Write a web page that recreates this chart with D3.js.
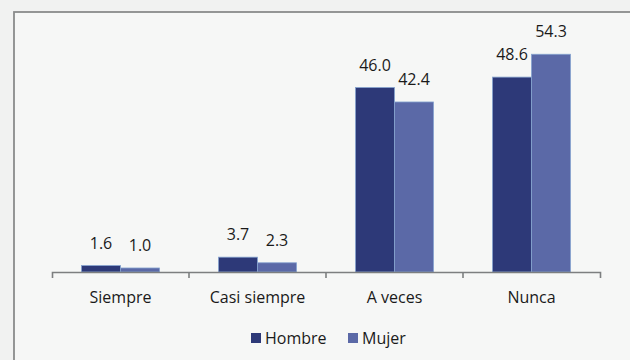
<!DOCTYPE html>
<html>
<head>
<meta charset="utf-8">
<script src="https://cdn.jsdelivr.net/npm/d3@7"></script>
<style>
  html, body { margin: 0; padding: 0; background: #f1f2f1; }
  svg { display: block; }
  text { font-family: "Open Sans", Lato, sans-serif; fill: #1a1a1a; }
</style>
</head>
<body>
<svg id="chart" width="630" height="360"></svg>
<script>
// Frecuencia por sexo (%)
const categories = ["Siempre", "Casi siempre", "A veces", "Nunca"];
const series = ["Hombre", "Mujer"];
const hombre = [1.6, 3.7, 46.0, 48.6];
const mujer = [1.0, 2.3, 42.4, 54.3];
const colors = ["#2d3978", "#5b69a7"];

const values = [hombre, mujer];
const svg = d3.select("#chart");
const font = "'Open Sans', Lato, sans-serif";

// frame
svg.append("rect")
  .attr("x", 14).attr("y", 12)
  .attr("width", 700).attr("height", 400)
  .attr("fill", "#f6f7f6")
  .attr("stroke", "#8a8c8c")
  .attr("stroke-width", 1.8);

const baseY = 272;
const x = d3.scaleBand().domain(categories).range([52, 600]).padding(0);
const x1 = d3.scaleBand().domain(series).range([0, x.bandwidth()])
  .paddingInner(0).paddingOuter(0.756);
const y = d3.scaleLinear().domain([0, 60]).range([baseY, baseY - 4.01 * 60]);

// bars
const groups = svg.append("g").selectAll("g")
  .data(categories)
  .join("g")
  .attr("transform", d => `translate(${x(d)},0)`);

groups.selectAll("rect")
  .data((c, i) => series.map((s, j) => ({ s, v: values[j][i], j })))
  .join("rect")
  .attr("x", d => x1(d.s))
  .attr("y", d => y(d.v))
  .attr("width", x1.bandwidth())
  .attr("height", d => y(0) - y(d.v))
  .attr("fill", d => colors[d.j])
  .attr("stroke", "#86a3cf")
  .attr("stroke-width", 0.8);

// value labels
groups.selectAll("text")
  .data((c, i) => series.map((s, j) => ({ s, v: values[j][i] })))
  .join("text")
  .attr("x", d => x1(d.s) + x1.bandwidth() / 2)
  .attr("y", d => y(d.v) - 17)
  .attr("text-anchor", "middle")
  .attr("font-size", 16)
  .text(d => d.v.toFixed(1));

// category axis
const axis = svg.append("g")
  .attr("transform", `translate(0,${baseY})`)
  .call(d3.axisBottom(x).tickSize(0).tickSizeOuter(6).tickPadding(20));
axis.select(".domain").attr("stroke", "#7d7f80").attr("stroke-width", 1.6);
axis.selectAll(".tick text").attr("font-size", 16).attr("fill", "#1a1a1a")
  .style("font-family", font);

// boundary ticks between categories
axis.selectAll("line.sep")
  .data(categories.slice(1))
  .join("line")
  .attr("class", "sep")
  .attr("x1", d => x(d)).attr("x2", d => x(d))
  .attr("y1", 0).attr("y2", 6)
  .attr("stroke", "#7d7f80").attr("stroke-width", 1.6);

// legend
const legendX = [251, 348];
const legend = svg.append("g");
series.forEach((s, j) => {
  legend.append("rect")
    .attr("x", legendX[j]).attr("y", 333)
    .attr("width", 10).attr("height", 10)
    .attr("fill", colors[j]);
  legend.append("text")
    .attr("x", legendX[j] + 14).attr("y", 344)
    .attr("font-size", 16)
    .text(s);
});
</script>
</body>
</html>
